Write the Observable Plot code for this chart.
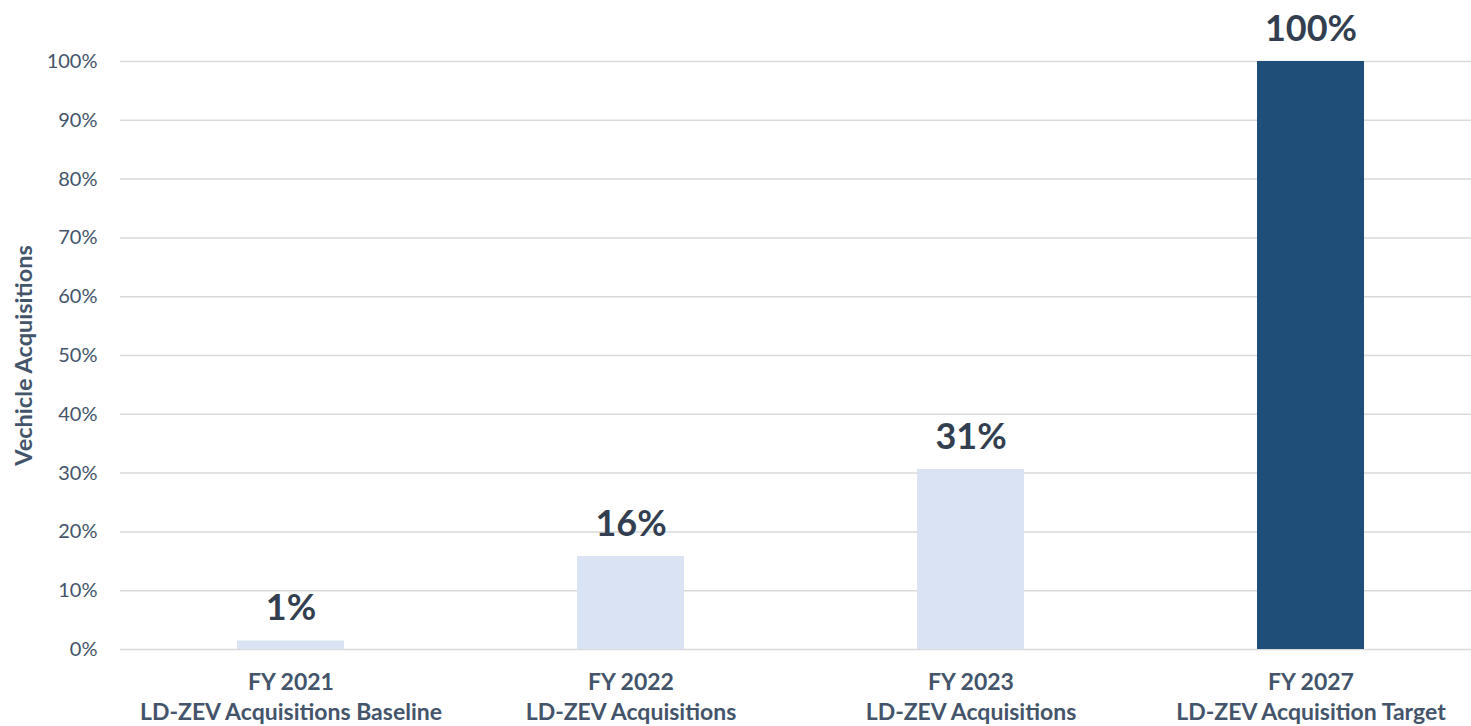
<!DOCTYPE html>
<html>
<head>
<meta charset="utf-8">
<script src="https://cdn.jsdelivr.net/npm/d3@7"></script>
<script src="https://cdn.jsdelivr.net/npm/@observablehq/plot@0.6"></script>
<style>
  html, body { margin: 0; padding: 0; background: #fff; overflow: hidden; }
  #chart svg { display: block; }
</style>
</head>
<body>
<div id="chart"></div>
<script>
const years = ["FY 2021", "FY 2022", "FY 2023", "FY 2027"];
const subtitles = ["LD-ZEV Acquisitions Baseline", "LD-ZEV Acquisitions", "LD-ZEV Acquisitions", "LD-ZEV Acquisition Target"];
const values = [0.0145, 0.158, 0.306, 1.0];
const labels = ["1%", "16%", "31%", "100%"];
const kinds = ["actual", "actual", "actual", "target"];
const yTicks = [0, 0.1, 0.2, 0.3, 0.4, 0.5, 0.6, 0.7, 0.8, 0.9, 1.0];
const yTitle = "Vechicle Acquisitions";

const data = years.map((y, i) => ({year: y, sub: subtitles[i], value: values[i], label: labels[i], kind: kinds[i]}));
const subOf = Object.fromEntries(years.map((y, i) => [y, subtitles[i]]));

const chart = Plot.plot({
  width: 1471,
  height: 726,
  marginLeft: 120,
  marginRight: -9,
  marginTop: 61,
  marginBottom: 77,
  style: {fontFamily: "Lato, 'Open Sans', sans-serif", background: "#fff"},
  x: {domain: years, paddingInner: 0.686, paddingOuter: 0.343, axis: null},
  y: {domain: [0, 1], axis: null},
  color: {domain: ["actual", "target"], range: ["#DAE3F3", "#1F4E79"]},
  marks: [
    Plot.ruleY(yTicks, {stroke: "#d9d9d9", strokeWidth: 1.5}),
    Plot.barY(data, {x: "year", y: "value", fill: "kind"}),
    Plot.text(data, {x: "year", y: "value", text: "label", lineAnchor: "bottom", dy: -21, fontSize: 36, fontWeight: "bold", fill: "#333F50"}),
    Plot.axisY({ticks: yTicks, tickSize: 0, tickPadding: 23, tickFormat: d => Math.round(d * 100) + "%", fontSize: 20, color: "#44546A", label: null}),
    Plot.axisX({tickSize: 0, tickPadding: 19, fontSize: 23, fontWeight: "bold", color: "#44546A", lineHeight: 1.3, tickFormat: d => d + "\n" + subOf[d], label: null}),
    Plot.text([yTitle], {frameAnchor: "left", rotate: -90, dx: -96, text: d => d, fontSize: 23.5, fontWeight: "bold", fill: "#44546A", textAnchor: "middle", lineAnchor: "middle"})
  ]
});
document.getElementById("chart").appendChild(chart);
</script>
</body>
</html>
